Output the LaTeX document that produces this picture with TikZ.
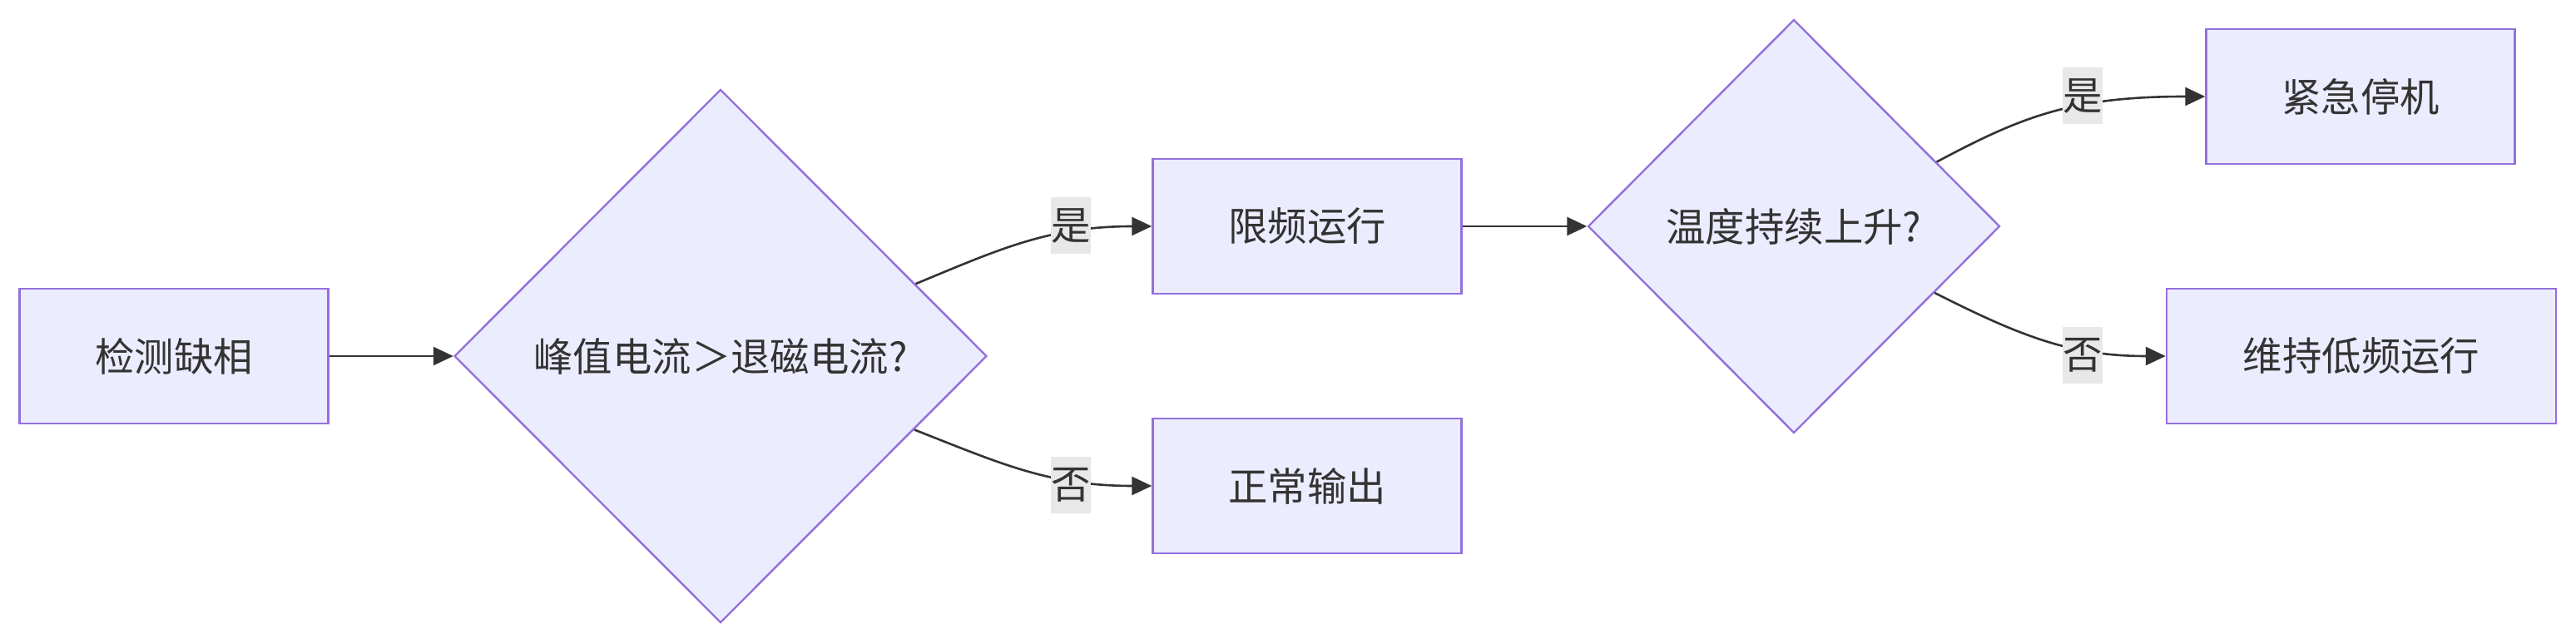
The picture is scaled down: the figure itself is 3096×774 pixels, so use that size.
\documentclass[tikz,border=0pt]{standalone}
\usepackage{fontspec}
\setmainfont{Noto Sans CJK SC}
\usetikzlibrary{shapes.geometric,arrows.meta,calc}
\definecolor{nodefill}{HTML}{ECECFF}
\definecolor{nodeline}{HTML}{9370DB}
\definecolor{ink}{HTML}{333333}
\definecolor{lblbg}{HTML}{E8E8E8}
\begin{document}
\begin{tikzpicture}[x=0.5pt,y=-0.5pt,
  every node/.style={font=\fontsize{23.7}{28}\selectfont, text=ink},
  procbox/.style={draw=nodeline, fill=nodefill, line width=1.2pt, rectangle, minimum height=81pt, inner sep=0pt},
  decision/.style={draw=nodeline, fill=nodefill, line width=1.2pt, diamond, aspect=1, inner sep=0pt},
  flow/.style={draw=ink, line width=1.3pt, -{Triangle[length=12pt,width=11pt]}},
  edgelabel/.style={fill=lblbg, inner sep=0pt, minimum width=24pt, minimum height=34pt}]
\useasboundingbox (0,0) rectangle (3096,774);

\node[procbox, minimum width=185.5pt] (a) at (209,428) {检测缺相};
\node[decision, minimum width=320pt, minimum height=320.5pt] (d1) at (866,428) {峰值电流＞退磁电流?};
\node[procbox, minimum width=185.5pt] (b) at (1571,272) {限频运行};
\node[procbox, minimum width=185.5pt] (c) at (1571,584) {正常输出};
\node[decision, minimum width=247.5pt, minimum height=248.5pt] (d2) at (2156,272) {温度持续上升?};
\node[procbox, minimum width=185.5pt] (e) at (2837,116) {紧急停机};
\node[procbox, minimum width=234pt] (f) at (2838,428) {维持低频运行};

\coordinate (d1a) at ($(d1.north)!0.73!(d1.east)$);
\coordinate (d1b) at ($(d1.east)!0.275!(d1.south)$);
\coordinate (d2a) at ($(d2.north)!0.69!(d2.east)$);
\coordinate (d2b) at ($(d2.east)!0.32!(d2.south)$);

\draw[flow] (a.east) -- (d1.west);
\draw[flow] (d1a) .. controls (1200,300) and (1260,272) .. (b.west);
\draw[flow] (d1b) .. controls (1200,556) and (1260,584) .. (c.west);
\draw[flow] (b.east) -- (d2.west);
\draw[flow] (d2a) .. controls (2430,140) and (2490,116) .. (e.west);
\draw[flow] (d2b) .. controls (2430,405) and (2490,428) .. (f.west);

\node[edgelabel] (l1) at (1287,271) {是};
\node[edgelabel] (l2) at (1287,583) {否};
\node[edgelabel] (l3) at (2503,115) {是};
\node[edgelabel] (l4) at (2503,427) {否};
\end{tikzpicture}
\end{document}
